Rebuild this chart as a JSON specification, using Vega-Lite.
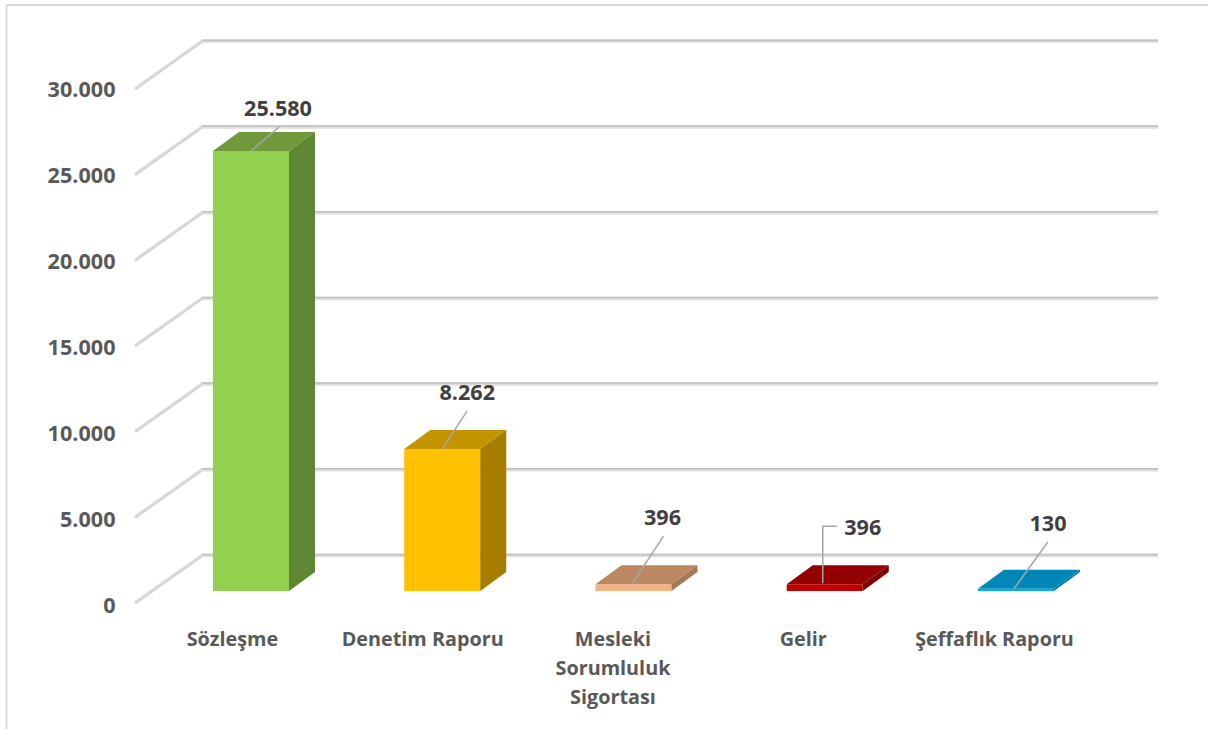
{"$schema":"https://vega.github.io/schema/vega-lite/v6.json","width":1201.5,"height":724,"autosize":{"type":"none"},"padding":{"left":6.5,"top":5,"right":0,"bottom":0},"background":"white","config":{"view":{"stroke":null},"text":{"font":"Open Sans"}},
"data":{"values":[{"name":"Sözleşme","value":25580},{"name":"Denetim Raporu","value":8262},{"name":"Mesleki Sorumluluk Sigortası","value":396},{"name":"Gelir","value":396},{"name":"Şeffaflık Raporu","value":130}]},
"transform":[{"window":[{"op":"row_number","as":"n"}]},{"calculate":"datum.n-1","as":"idx"}],
"resolve":{"scale":{"color":"independent"}},
"layer":[
{"data":{"values":[{"tick":0},{"tick":5000},{"tick":10000},{"tick":15000},{"tick":20000},{"tick":25000},{"tick":30000}]},
"transform":[{"calculate":"[0,1,2]","as":"t"},{"flatten":["t"]},{"calculate":"[-0.6065,-0.2562,4.7425][datum.t]","as":"gx"},{"calculate":"datum.tick*0.9965+(datum.t==0?-698:2064)","as":"gy"}],
"mark":{"type":"line","stroke":"#dedede","strokeWidth":3.5},
"encoding":{"x":{"field":"gx","type":"quantitative","scale":{"domain":[-1.2784,5.0039],"nice":false,"zero":false},"axis":{"values":[-0.1,0.895,1.89,2.885,3.885],"title":null,"grid":false,"domain":false,"ticks":false,"offset":-100,"labelPadding":0,"labelFont":"Open Sans","labelFontWeight":"bold","labelFontSize":19.8,"labelColor":"#595959","labelLineHeight":29,"labelBaseline":"top","labelOverlap":false,"labelFlush":false,"labelExpr":"datum.index==0?'Sözleşme':datum.index==0.25?'Denetim Raporu':datum.index==0.5?['Mesleki','Sorumluluk','Sigortası']:datum.index==0.75?'Gelir':'Şeffaflık Raporu'"}},
"y":{"field":"gy","type":"quantitative","scale":{"domain":[-8023,34070],"nice":false,"zero":false},"axis":{"values":[0,5000,10000,15000,20000,25000,30000],"title":null,"grid":false,"domain":false,"ticks":false,"offset":-108.5,"labelPadding":0,"labelOffset":15.5,"labelFont":"Open Sans","labelFontWeight":"bold","labelFontSize":21.6,"labelColor":"#595959","labelExpr":"replace(format(datum.value,','),',','.')"}},
"detail":{"field":"tick"},"order":{"field":"t"}}},
{"data":{"values":[{"tick":0},{"tick":5000},{"tick":10000},{"tick":15000},{"tick":20000},{"tick":25000},{"tick":30000}]},
"transform":[{"calculate":"[1,2]","as":"t"},{"flatten":["t"]},{"calculate":"[-0.6065,-0.2562,4.7425][datum.t]","as":"gx"},{"calculate":"datum.tick*0.9965+2064","as":"gy"}],
"mark":{"type":"line","stroke":"#bfbfbf","strokeWidth":1.5,"yOffset":-1},
"encoding":{"x":{"field":"gx","type":"quantitative","scale":{"domain":[-1.2784,5.0039],"nice":false,"zero":false}},"y":{"field":"gy","type":"quantitative","scale":{"domain":[-8023,34070],"nice":false,"zero":false}},"detail":{"field":"tick"},"order":{"field":"t"}}},
{"data":{"values":[{"tick":0},{"tick":5000},{"tick":10000},{"tick":15000},{"tick":20000},{"tick":25000},{"tick":30000}]},
"transform":[{"calculate":"[0,1]","as":"t"},{"flatten":["t"]},{"calculate":"[-0.6065,-0.2562,4.7425][datum.t]","as":"gx"},{"calculate":"datum.tick*0.9965+(datum.t==0?-698:2064)","as":"gy"}],
"mark":{"type":"line","stroke":"#cfcfcf","strokeWidth":1,"yOffset":0.5},
"encoding":{"x":{"field":"gx","type":"quantitative","scale":{"domain":[-1.2784,5.0039],"nice":false,"zero":false}},"y":{"field":"gy","type":"quantitative","scale":{"domain":[-8023,34070],"nice":false,"zero":false}},"detail":{"field":"tick"},"order":{"field":"t"}}},
{"data":{"values":[{"edge":34070}]},"mark":{"type":"rule","stroke":"#d9d9d9","strokeWidth":2},
"encoding":{"y":{"field":"edge","type":"quantitative","scale":{"domain":[-8023,34070],"nice":false,"zero":false}},"x":{"datum":-1.2784,"scale":{"domain":[-1.2784,5.0039],"nice":false,"zero":false}},"x2":{"datum":5.0039}}},
{"data":{"values":[{"edge":-1.2784}]},"mark":{"type":"rule","stroke":"#d9d9d9","strokeWidth":2},
"encoding":{"x":{"field":"edge","type":"quantitative","scale":{"domain":[-1.2784,5.0039],"nice":false,"zero":false}},"y":{"datum":-8023,"scale":{"domain":[-8023,34070],"nice":false,"zero":false}},"y2":{"datum":34070}}},
{"transform":[{"calculate":"datum.idx-0.1987","as":"l"},{"calculate":"datum.idx+0.1987","as":"r"}],
"mark":{"type":"rect"},
"encoding":{"x":{"field":"l","type":"quantitative","scale":{"domain":[-1.2784,5.0039],"nice":false,"zero":false}},"x2":{"field":"r"},"y":{"field":"value","type":"quantitative","scale":{"domain":[-8023,34070],"nice":false,"zero":false}},"y2":{"datum":0},
"color":{"field":"name","type":"nominal","legend":null,"sort":null,"scale":{"domain":["Sözleşme","Denetim Raporu","Mesleki Sorumluluk Sigortası","Gelir","Şeffaflık Raporu"],"range":["#92d050","#ffc000","#f4b183","#c00000","#00b0f0"]}}}},
{"transform":[{"calculate":"[0,1]","as":"t"},{"flatten":["t"]},{"calculate":"datum.idx-0.1987+datum.t*0.1359","as":"l"},{"calculate":"datum.idx+0.1987+datum.t*0.1359","as":"r"},{"calculate":"datum.value+datum.t*1105","as":"h"}],
"mark":{"type":"area","orient":"horizontal"},
"encoding":{"x":{"field":"l","type":"quantitative","scale":{"domain":[-1.2784,5.0039],"nice":false,"zero":false}},"x2":{"field":"r"},"y":{"field":"h","type":"quantitative","scale":{"domain":[-8023,34070],"nice":false,"zero":false}},
"color":{"field":"name","type":"nominal","legend":null,"scale":{"domain":["Sözleşme","Denetim Raporu","Mesleki Sorumluluk Sigortası","Gelir","Şeffaflık Raporu"],"range":["#70993b","#c49400","#bc8763","#930000","#0087b8"]}}}},
{"transform":[{"calculate":"[0,1]","as":"t"},{"flatten":["t"]},{"calculate":"datum.idx+0.1987+datum.t*0.1359","as":"r"},{"calculate":"datum.value+datum.t*1105","as":"h"},{"calculate":"datum.t*1105","as":"b"}],
"mark":{"type":"area","orient":"vertical"},
"encoding":{"x":{"field":"r","type":"quantitative","scale":{"domain":[-1.2784,5.0039],"nice":false,"zero":false}},"y":{"field":"h","type":"quantitative","scale":{"domain":[-8023,34070],"nice":false,"zero":false}},"y2":{"field":"b"},
"color":{"field":"name","type":"nominal","legend":null,"scale":{"domain":["Sözleşme","Denetim Raporu","Mesleki Sorumluluk Sigortası","Gelir","Şeffaflık Raporu"],"range":["#5f8633","#a67d00","#a37856","#7f0000","#0078a5"]}}}},
{"transform":[{"calculate":"[0,1,2]","as":"t"},{"flatten":["t"]},
{"calculate":"datum.idx+[[0,28,28],[0,25,25],[-1,30,30],[-2,-2,12],[-2,32,32]][datum.idx][datum.t]/191.25","as":"lx"},
{"calculate":"datum.value+[[0,24,24],[0,38,38],[1,48,48],[1,58,58],[0,47,47]][datum.idx][datum.t]*58.14","as":"ly"}],
"mark":{"type":"line","stroke":"#a6a6a6","strokeWidth":1.5},
"encoding":{"x":{"field":"lx","type":"quantitative","scale":{"domain":[-1.2784,5.0039],"nice":false,"zero":false}},"y":{"field":"ly","type":"quantitative","scale":{"domain":[-8023,34070],"nice":false,"zero":false}},"detail":{"field":"name"},"order":{"field":"t"}}},
{"transform":[{"calculate":"datum.idx+[27,25,29,38,32][datum.idx]/191.25","as":"tx"},{"calculate":"datum.value+[41,55,65,55,64][datum.idx]*58.14","as":"ty"},{"calculate":"replace(format(datum.value,','),',','.')","as":"lab"}],
"mark":{"type":"text","font":"Open Sans","fontWeight":"bold","fontSize":21.6,"fill":"#404040","align":"center","baseline":"middle"},
"encoding":{"x":{"field":"tx","type":"quantitative","scale":{"domain":[-1.2784,5.0039],"nice":false,"zero":false}},"y":{"field":"ty","type":"quantitative","scale":{"domain":[-8023,34070],"nice":false,"zero":false}},"text":{"field":"lab"}}}
]}
